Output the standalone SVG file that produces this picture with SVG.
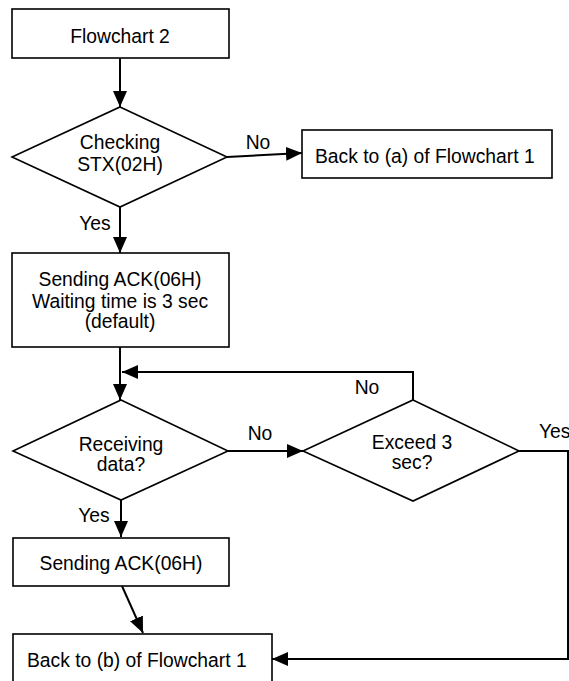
<svg xmlns="http://www.w3.org/2000/svg" width="569" height="681" viewBox="0 0 569 681">
<style>
.shape{fill:#fff;stroke:#000;stroke-width:1.6}
.conn{fill:none;stroke:#000;stroke-width:2}
text{font-family:"Liberation Sans",Arial,sans-serif;font-size:19.3px;fill:#000}
.c{text-anchor:middle}
</style>
<defs>
<marker id="ah" viewBox="0 0 16 14" refX="16" refY="7" markerWidth="16" markerHeight="14" markerUnits="userSpaceOnUse" orient="auto">
<path d="M0,0 L16,7 L0,14 Z" fill="#000"/>
</marker>
</defs>
<rect width="569" height="681" fill="#fff"/>
<g id="connectors">
<line class="conn" x1="120" y1="58" x2="120" y2="107" marker-end="url(#ah)"/>
<line class="conn" x1="227" y1="157" x2="302" y2="153" marker-end="url(#ah)"/>
<line class="conn" x1="120" y1="207" x2="120" y2="253" marker-end="url(#ah)"/>
<line class="conn" x1="120" y1="347" x2="120" y2="400" marker-end="url(#ah)"/>
<polyline class="conn" points="413,400 413,372 122,372" marker-end="url(#ah)"/>
<line class="conn" x1="228" y1="451" x2="303" y2="451" marker-end="url(#ah)"/>
<line class="conn" x1="121" y1="500" x2="121" y2="537" marker-end="url(#ah)"/>
<line class="conn" x1="122" y1="586" x2="143" y2="633" marker-end="url(#ah)"/>
<polyline class="conn" points="519,451 568,451 568,659 272,659" marker-end="url(#ah)"/>
<text class="c" x="258" y="149">No</text>
<text class="c" x="95" y="230">Yes</text>
<text class="c" x="367" y="394">No</text>
<text class="c" x="260" y="440">No</text>
<text x="539" y="438">Yes</text>
<text class="c" x="94" y="522">Yes</text>
</g>
<g id="start">
<rect class="shape" x="12" y="9" width="217" height="49"/>
<text class="c" x="120" y="43">Flowchart 2</text>
</g>
<g id="check-stx">
<polygon class="shape" points="120,107 227,157 120,207 12,157"/>
<text class="c" x="120" y="149">Checking</text>
<text class="c" x="120" y="171">STX(02H)</text>
</g>
<g id="back-a">
<rect class="shape" x="302" y="130" width="250" height="48"/>
<text x="315" y="163">Back to (a) of Flowchart 1</text>
</g>
<g id="send-ack-wait">
<rect class="shape" x="12" y="253" width="217" height="94"/>
<text class="c" x="120" y="286">Sending ACK(06H)</text>
<text class="c" x="120" y="308">Waiting time is 3 sec</text>
<text class="c" x="120" y="328">(default)</text>
</g>
<g id="receiving">
<polygon class="shape" points="121,400 228,451 121,500 13,451"/>
<text class="c" x="121" y="451">Receiving</text>
<text class="c" x="121" y="471">data?</text>
</g>
<g id="exceed">
<polygon class="shape" points="413,400 519,451 413,501 303,451"/>
<text class="c" x="412" y="449">Exceed 3</text>
<text class="c" x="412" y="469">sec?</text>
</g>
<g id="send-ack">
<rect class="shape" x="13" y="538" width="216" height="48"/>
<text class="c" x="121" y="570">Sending ACK(06H)</text>
</g>
<g id="back-b">
<rect class="shape" x="13" y="634" width="259" height="60"/>
<text x="27" y="667">Back to (b) of Flowchart 1</text>
</g>
</svg>
